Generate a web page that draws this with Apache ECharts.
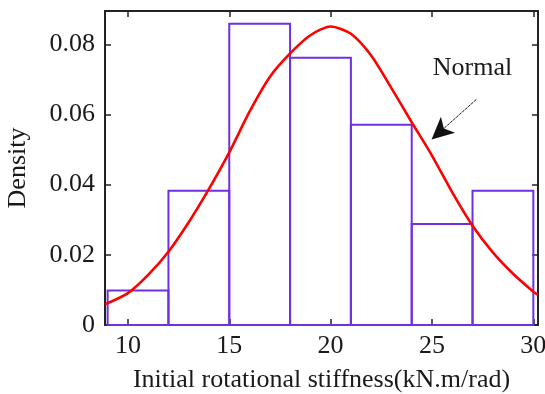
<!DOCTYPE html>
<html>
<head>
<meta charset="utf-8">
<script src="https://cdn.jsdelivr.net/npm/echarts@6/dist/echarts.min.js"></script>
<style>
html,body{margin:0;padding:0;background:#fff;}
#c{width:545px;height:394px;}
</style>
</head>
<body>
<div id="c"></div>
<script>
// Histogram bins (lower edge, upper edge) and densities
const binStarts = [9, 12, 15, 18, 21, 24, 27];
const binEnds   = [12, 15, 18, 21, 24, 27, 30];
const densities = [0.0098, 0.0383, 0.0859, 0.0762, 0.0571, 0.0288, 0.0383];

// Fitted normal curve
const curveX = [8.87, 10, 11, 12, 13, 14, 15, 16, 17, 18, 19, 20, 21, 22, 23, 24, 25, 26, 27, 28, 29, 30, 30.23];
const curveY = [0.0059, 0.0091, 0.0143, 0.0209, 0.0293, 0.0388, 0.0492, 0.0608, 0.0707, 0.0774, 0.0826, 0.0851, 0.0830, 0.0768, 0.0675, 0.0578, 0.0483, 0.0378, 0.0283, 0.0207, 0.0146, 0.0095, 0.0086];

// Tick labels
const xTicks = [10, 15, 20, 25, 30];
const yTicks = [0, 0.02, 0.04, 0.06, 0.08];

const xMin = 8.87, xMax = 30.23, yMin = 0, yMax = 0.0895;

const FONT = 'Liberation Serif';
const FS = 26;
const TXT = '#1a1a1a';
const chart = echarts.init(document.getElementById('c'), null, {renderer: 'canvas'});

const histData = binStarts.map((s, i) => [s, binEnds[i], densities[i]]);
const curveData = curveX.map((x, i) => [x, curveY[i]]);

const axisLineStyle = {color: '#222', width: 2};
const tickStyle = {color: '#222', width: 1.5};

chart.setOption({
  animation: false,
  backgroundColor: '#fff',
  grid: {left: 105, top: 11, right: 7, bottom: 69, containLabel: false, outerBoundsMode: 'none'},
  xAxis: [{
    type: 'value', min: xMin, max: xMax, position: 'bottom',
    name: 'Initial rotational stiffness(kN.m/rad)',
    nameLocation: 'middle', nameGap: 42,
    nameTextStyle: {fontFamily: FONT, fontSize: FS, color: TXT},
    axisLine: {show: true, onZero: false, lineStyle: axisLineStyle},
    axisTick: {show: true, inside: true, length: 6, customValues: xTicks, lineStyle: tickStyle},
    axisLabel: {show: true, customValues: xTicks, fontFamily: FONT, fontSize: FS, color: TXT, margin: 8},
    splitLine: {show: false}
  }, {
    type: 'value', min: xMin, max: xMax, position: 'top',
    axisLine: {show: true, onZero: false, lineStyle: axisLineStyle},
    axisTick: {show: true, inside: true, length: 6, customValues: xTicks, lineStyle: tickStyle},
    axisLabel: {show: false},
    splitLine: {show: false}
  }],
  yAxis: [{
    type: 'value', min: yMin, max: yMax, position: 'left',
    name: 'Density', nameLocation: 'middle', nameGap: 74, nameRotate: 90,
    nameTextStyle: {fontFamily: FONT, fontSize: FS, color: TXT},
    axisLine: {show: true, onZero: false, lineStyle: axisLineStyle},
    axisTick: {show: true, inside: true, length: 6, customValues: yTicks, lineStyle: tickStyle},
    axisLabel: {show: true, customValues: yTicks, fontFamily: FONT, fontSize: FS, color: TXT, margin: 10,
      formatter: v => v === 0 ? '0' : v.toFixed(2)},
    splitLine: {show: false}
  }, {
    type: 'value', min: yMin, max: yMax, position: 'right',
    axisLine: {show: true, onZero: false, lineStyle: axisLineStyle},
    axisTick: {show: true, inside: true, length: 6, customValues: yTicks, lineStyle: tickStyle},
    axisLabel: {show: false},
    splitLine: {show: false}
  }],
  series: [{
    type: 'custom',
    xAxisIndex: 0, yAxisIndex: 0,
    data: histData,
    encode: {x: [0, 1], y: 2},
    renderItem: function (params, api) {
      const p0 = api.coord([api.value(0), api.value(2)]);
      const p1 = api.coord([api.value(1), 0]);
      return {
        type: 'rect',
        shape: {x: p0[0], y: p0[1], width: p1[0] - p0[0], height: p1[1] - p0[1]},
        style: {fill: 'rgba(0,0,0,0)', stroke: '#7030e0', lineWidth: 2}
      };
    },
    z: 2
  }, {
    type: 'line',
    xAxisIndex: 0, yAxisIndex: 0,
    data: curveData,
    smooth: 0.25,
    symbol: 'none',
    lineStyle: {color: '#ff0000', width: 2.6},
    z: 3,
    markPoint: {
      silent: true,
      symbol: 'circle', symbolSize: 0,
      data: [{coord: [27.0, 0.0732], value: 'Normal',
        label: {show: true, formatter: 'Normal', fontFamily: FONT, fontSize: FS, color: TXT, position: 'inside'}}]
    },
    markLine: {
      silent: true,
      symbol: ['none', 'arrow'],
      symbolSize: [16, 22],
      label: {show: false},
      lineStyle: {color: '#111', width: 1, type: [3, 1]},
      data: [[{coord: [27.19, 0.0643]}, {coord: [24.98, 0.0529]}]]
    }
  }]
});
</script>
</body>
</html>
